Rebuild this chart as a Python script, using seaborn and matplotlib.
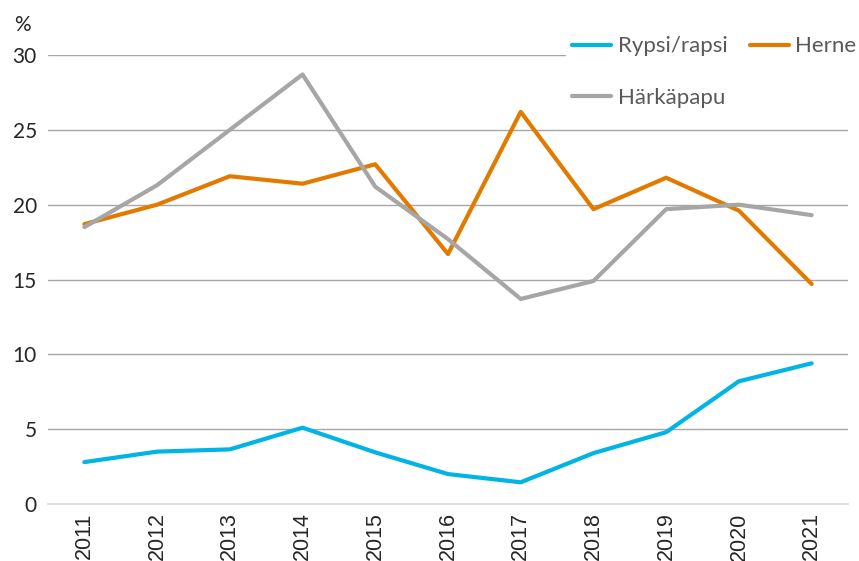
import pandas as pd
import matplotlib.pyplot as plt
import seaborn as sns

years = list(range(2011, 2022))
rypsi = [2.8, 3.5, 3.65, 5.1, 3.45, 2.0, 1.45, 3.4, 4.8, 8.2, 9.4]
herne = [18.7, 20.0, 21.9, 21.4, 22.7, 16.7, 26.2, 19.7, 21.8, 19.6, 14.7]
harkapapu = [18.5, 21.3, 25.0, 28.7, 21.2, 17.7, 13.7, 14.9, 19.7, 20.0, 19.3]

series = ['Rypsi/rapsi', 'Herne', 'Härkäpapu']
colors = ['#00B4E4', '#E37A00', '#A6A6A6']

df = pd.DataFrame({
    'year': years * 3,
    'value': rypsi + herne + harkapapu,
    'crop': [s for s in series for _ in years],
})

sns.set_style('white')
plt.rcParams['font.family'] = ['Lato', 'DejaVu Sans']

fig = plt.figure(figsize=(8.59, 5.61), dpi=100)
ax = fig.add_axes([48 / 859, 57 / 561, 800 / 859, 449 / 561])

sns.lineplot(data=df, x='year', y='value', hue='crop', hue_order=series,
             palette=colors, linewidth=3, ax=ax)

ax.set_xlim(2010.5, 2021.5)
ax.set_ylim(0, 30)
ax.set_yticks(range(0, 31, 5))
ax.set_xticks(years)
ax.set_xticklabels([str(y) for y in years], rotation=90,
                   fontsize=15.5, family='Liberation Sans')
ax.tick_params(axis='y', labelsize=15, length=0, pad=8)
ax.tick_params(axis='x', length=0, pad=6)
ax.set_xlabel('')
ax.set_ylabel('')

for v in range(5, 31, 5):
    ax.axhline(v, color='#A6A6A6', linewidth=1, zorder=0)
for side in ['top', 'right', 'left']:
    ax.spines[side].set_visible(False)
ax.spines['bottom'].set_color('#D9D9D9')
ax.spines['bottom'].set_linewidth(1.2)

ax.text(-0.042, 1.045, '%', transform=ax.transAxes, fontsize=15,
        ha='left', va='bottom')

# legend fills column-wise, so reorder to get Rypsi/Herne on the first row
handles, labels = ax.get_legend_handles_labels()
order = [0, 2, 1]
leg = ax.legend([handles[i] for i in order], [labels[i] for i in order],
                ncol=2, loc='upper right', bbox_to_anchor=(1.033, 1.081),
                frameon=True, facecolor='white', edgecolor='none',
                framealpha=1, fontsize=16, labelspacing=1.4,
                handlelength=1.75, handletextpad=0.3, columnspacing=1.0,
                borderpad=0.3)
leg.get_frame().set_boxstyle('square', pad=0)
for t in leg.get_texts():
    t.set_color('#595959')
for line in leg.get_lines():
    line.set_linewidth(3)
leg.set_zorder(5)

fig.savefig('out.png', dpi=100)
